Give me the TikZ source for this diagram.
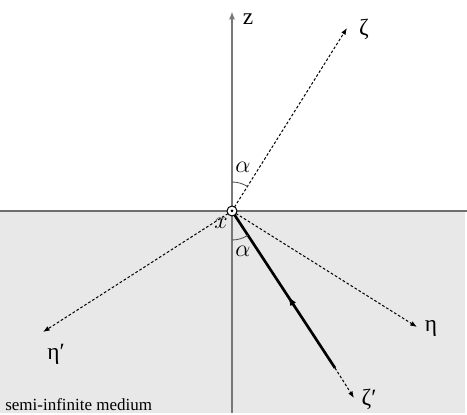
\documentclass[tikz,border=0pt]{standalone}
\usepackage{fontspec}
\setmainfont{Liberation Serif}
\usetikzlibrary{arrows.meta,decorations.markings,calc}
\definecolor{medium}{RGB}{232,232,232}
\definecolor{surfacegrey}{RGB}{110,110,110}
\definecolor{axisgrey}{RGB}{120,120,120}
\begin{document}
\begin{tikzpicture}[x=0.6pt,y=-0.6pt,
  ray/.style={line width=0.6pt,dash pattern=on 1.6pt off 1.2pt,-{Latex[length=4pt,width=3pt]}},
  beam/.style={line width=1.6pt,postaction={decorate},
    decoration={markings,mark=at position 0.46 with {\arrow{Latex[length=6pt,width=4pt]}}}},
  lbl/.style={inner sep=0pt,font=\fontsize{14}{14}\selectfont},
  albl/.style={inner sep=0pt,font=\fontsize{15}{15}\selectfont},
  anglearc/.style={line width=0.5pt,black!70}]
\useasboundingbox (0,0) rectangle (467,415);
\fill[medium] (0,211) rectangle (465,413);
\draw[surfacegrey,line width=1pt] (0,211) -- (467,211);
\coordinate (O) at (232,211);
\coordinate (zbot) at (232,413);
\coordinate (ztop) at (232,11);
\draw[axisgrey,line width=1pt,-{Latex[length=5pt,width=3.5pt]}] (zbot) -- (ztop);
\coordinate (zetaend) at (347,28);
\coordinate (etaend) at (417,327);
\coordinate (etapend) at (43,332);
\coordinate (beamstart) at (335,368);
\coordinate (zetapend) at (354,398);
\draw[ray] (O) -- (zetaend);
\draw[ray] (O) -- (etaend);
\draw[ray] (O) -- (etapend);
\draw[ray] (beamstart) -- (zetapend);
\draw[beam] (beamstart) -- (O);
\draw[anglearc] ($(O)+(0,-29)$) arc[start angle=-90,end angle=-57.9,radius=29];
\draw[anglearc] ($(O)+(0,29)$) arc[start angle=90,end angle=56.9,radius=29];
\node[circle,draw,fill=white,line width=0.6pt,inner sep=0pt,minimum size=6pt] (orig) at (O) {};
\fill (orig.center) circle (0.9pt);
\node[lbl] (zlab) at (248,19) {z};
\node[lbl] (zetalab) at (364,29) {ζ};
\node[lbl] (etalab) at (431,328) {η};
\node[lbl] (etaplab) at (56,354) {η′};
\node[lbl] (zetaplab) at (369,399) {ζ′};
\node[albl] (xlab) at (221,223) {$x$};
\node[albl] (alup) at (243,167) {$\alpha$};
\node[albl] (aldown) at (243,251) {$\alpha$};
\node[anchor=west,inner sep=0pt,font=\fontsize{10.2}{10.2}\selectfont] (medlab) at (5,405) {semi-infinite medium};
\end{tikzpicture}
\end{document}
